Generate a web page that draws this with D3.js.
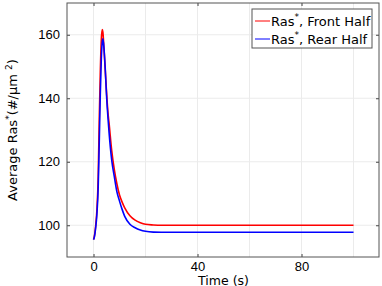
<!DOCTYPE html>
<html>
<head>
<meta charset="utf-8">
<script src="https://cdn.jsdelivr.net/npm/d3@7"></script>
<style>
  body { margin: 0; background: #fff; }
  svg { display: block; font-family: "DejaVu Sans", sans-serif; }
</style>
</head>
<body>
<div id="chart-container"></div>
<script>
// Data
const times = [0, 0.3, 0.8, 1.3, 1.8, 2.2, 2.6, 3.0, 3.35, 3.6, 4.0, 4.5, 5.0, 5.5, 6.0, 7.0, 8.0, 9.0, 10, 11, 12, 14, 16, 18, 20, 23, 26, 30, 40, 60, 80, 100];
const frontHalf = [95.5, 96.4, 99.6, 104.8, 115.3, 133, 148, 158.5, 161.6, 160.8, 156, 149, 142, 136, 132, 123.5, 117.5, 113, 109.5, 107.3, 105.5, 103, 101.6, 100.8, 100.3, 100.1, 100, 100, 100, 100, 100, 100];
const rearHalf = [95.5, 96.2, 99, 103.5, 112, 126, 141, 152.5, 157.5, 158.7, 156, 149.5, 141, 134.5, 129, 120.5, 115.3, 110.5, 107.6, 105, 102.8, 100.3, 99.2, 98.5, 98.1, 97.85, 97.8, 97.8, 97.8, 97.8, 97.8, 97.8];
const xTickLabels = [0, 40, 80];
const yTickLabels = [100, 120, 140, 160];
const xGridValues = [0, 20, 40, 60, 80, 100];

const seriesList = [
  { name: "Front Half", values: frontHalf, color: "#ff0000" },
  { name: "Rear Half", values: rearHalf, color: "#0000ff" }
];

const margin = { top: 3, right: 3, bottom: 29, left: 67 };
const width = 382 - margin.left - margin.right;
const height = 286 - margin.top - margin.bottom;

const svg = d3.select("#chart-container")
  .append("svg")
  .attr("width", 382)
  .attr("height", 286);

const g = svg.append("g")
  .attr("transform", `translate(${margin.left},${margin.top})`);

const x = d3.scaleLinear().domain([-10.2, 109.8]).range([0, width]);
const y = d3.scaleLinear().domain([90, 170]).range([height, 0]);

// gridlines
g.selectAll(".xgrid")
  .data(xGridValues)
  .enter().append("line")
  .attr("x1", d => x(d)).attr("x2", d => x(d))
  .attr("y1", 0).attr("y2", height)
  .attr("stroke", "#ebebeb").attr("stroke-width", 1);

g.selectAll(".ygrid")
  .data(yTickLabels)
  .enter().append("line")
  .attr("x1", 0).attr("x2", width)
  .attr("y1", d => y(d)).attr("y2", d => y(d))
  .attr("stroke", "#ebebeb").attr("stroke-width", 1);

// lines
const line = d3.line()
  .x((d, i) => x(times[i]))
  .y(d => y(d))
  .curve(d3.curveMonotoneX);

seriesList.forEach(s => {
  g.append("path")
    .datum(s.values)
    .attr("fill", "none")
    .attr("stroke", s.color)
    .attr("stroke-width", 1.6)
    .attr("d", line);
});

// axes with inward ticks on all sides
const tickStyle = sel => {
  sel.select(".domain").remove();
  sel.selectAll("line").attr("stroke", "#444");
};

g.append("g")
  .attr("transform", `translate(0,${height})`)
  .call(d3.axisBottom(x).tickValues(xTickLabels).tickSizeInner(-3).tickPadding(5))
  .call(tickStyle)
  .call(a => a.selectAll("text").attr("fill", "#000").style("font-size", "13px").attr("font-family", null));

g.append("g")
  .call(d3.axisTop(x).tickValues(xTickLabels).tickSizeInner(-3).tickFormat(""))
  .call(tickStyle);

g.append("g")
  .call(d3.axisLeft(y).tickValues(yTickLabels).tickSizeInner(-3).tickPadding(7))
  .call(tickStyle)
  .call(a => a.selectAll("text").attr("fill", "#000").style("font-size", "13px").attr("font-family", null));

g.append("g")
  .attr("transform", `translate(${width},0)`)
  .call(d3.axisRight(y).tickValues(yTickLabels).tickSizeInner(-3).tickFormat(""))
  .call(tickStyle);

// frame
g.append("rect")
  .attr("width", width).attr("height", height)
  .attr("fill", "none").attr("stroke", "#555").attr("stroke-width", 1);

// axis labels
svg.append("text")
  .attr("x", margin.left + x(50))
  .attr("y", 284.5)
  .attr("text-anchor", "middle")
  .style("font-size", "12.5px")
  .text("Time (s)");

const yLabel = svg.append("text")
  .attr("transform", `translate(17,${130}) rotate(-90)`)
  .attr("text-anchor", "middle")
  .style("font-size", "13px");
yLabel.append("tspan").text("Average Ras");
yLabel.append("tspan").attr("dy", -5).style("font-size", "9px").text("*");
yLabel.append("tspan").attr("dy", 5).text("(#/\u00b5m ");
yLabel.append("tspan").attr("dy", -5).style("font-size", "9px").text("2");
yLabel.append("tspan").attr("dy", 5).text(")");

// legend
const legend = svg.append("g").attr("transform", "translate(252,9)");
legend.append("rect")
  .attr("width", 120).attr("height", 39)
  .attr("fill", "#fff").attr("stroke", "#555").attr("stroke-width", 1);

seriesList.forEach((s, i) => {
  const row = legend.append("g").attr("transform", `translate(0,${12 + i * 18})`);
  row.append("line")
    .attr("x1", 3).attr("x2", 18)
    .attr("stroke", s.color).attr("stroke-width", 1);
  const t = row.append("text")
    .attr("x", 19).attr("y", 5)
    .style("font-size", "13px");
  t.append("tspan").text("Ras");
  t.append("tspan").attr("dy", -6).style("font-size", "9px").text("*");
  t.append("tspan").attr("dy", 6).text(", " + s.name);
});
</script>
</body>
</html>
